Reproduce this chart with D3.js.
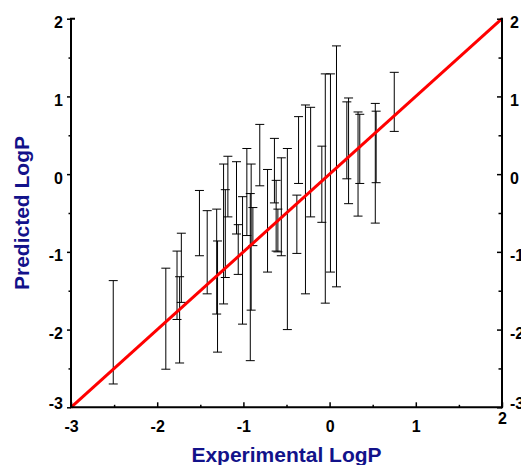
<!DOCTYPE html>
<html>
<head>
<meta charset="utf-8">
<script src="https://cdn.jsdelivr.net/npm/d3@7"></script>
<style>
  body { margin: 0; background: #fff; }
  svg { display: block; }
</style>
</head>
<body>
<div id="chart"></div>
<script>
// values
const expLogP = [-2.51, -1.90, -1.77, -1.72, -1.74, -1.51, -1.42, -1.31, -1.30, -1.23, -1.21, -1.18, -1.08, -1.06,
  -1.01, -0.96, -0.92, -0.91, -0.89, -0.81, -0.72, -0.64, -0.62, -0.60, -0.56, -0.49, -0.38, -0.36, -0.28, -0.22,
  -0.09, -0.05, 0.01, 0.08, 0.20, 0.22, 0.33, 0.35, 0.53, 0.54, 0.75];
const predHigh = [-1.37, -1.21, -0.99, -0.76, -1.32, -0.21, -0.47, -0.45, -0.86, 0.13, -0.20, 0.23, 0.16, -0.65,
  -0.29, 0.33, -0.25, 0.13, -0.43, 0.64, 0.06, 0.46, -0.08, -0.45, 0.21, 0.33, -0.27, 0.74, 0.89, 0.86,
  0.36, 1.29, 1.29, 1.65, 0.93, 0.98, 0.80, 0.77, 0.91, 0.81, 1.31];
const predLow = [-2.70, -2.51, -1.87, -1.65, -2.43, -1.05, -1.54, -1.80, -2.29, -1.67, -1.33, -0.55, -0.77, -1.29,
  -1.93, -0.79, -2.40, -1.75, -0.92, -0.15, -1.26, -0.37, -0.99, -1.00, -1.05, -2.00, -1.02, -0.12, -1.54, -0.55,
  -0.62, -1.66, -1.26, -1.45, -0.06, -0.38, -0.54, -0.12, -0.63, -0.11, 0.55];
const majorTicks = [-3, -2, -1, 0, 1, 2];
const minorTicks = [-2.5, -1.5, -0.5, 0.5, 1.5];
const identityLine = [-3, 2];
const xTitle = "Experimental LogP";
const yTitle = "Predicted LogP";

function drawPlot() {
  const data = expLogP.map((x, i) => ({ x: x, lo: predLow[i], hi: predHigh[i] }));

  let dimensions = {
    width: 521,
    height: 465,
    margin: { top: 18.7, right: 19, bottom: 57.7, left: 71 },
  };
  dimensions.boundedWidth = dimensions.width - dimensions.margin.left - dimensions.margin.right;
  dimensions.boundedHeight = dimensions.height - dimensions.margin.top - dimensions.margin.bottom;

  const font = "'Liberation Sans', Arial, sans-serif";
  const navy = "#12128a";

  const wrapper = d3.select("#chart")
    .append("svg")
      .attr("width", dimensions.width)
      .attr("height", dimensions.height)
      .style("background", "#fff");

  const xScale = d3.scaleLinear()
    .domain([-3, 2])
    .range([dimensions.margin.left, dimensions.margin.left + dimensions.boundedWidth]);

  const yScale = d3.scaleLinear()
    .domain([-3, 2])
    .range([dimensions.margin.top + dimensions.boundedHeight, dimensions.margin.top]);

  const x0 = xScale.range()[0], x1 = xScale.range()[1];
  const yB = yScale.range()[0], yT = yScale.range()[1];

  // error bars
  const bars = wrapper.append("g")
    .attr("stroke", "#000")
    .attr("stroke-width", 1)
    .attr("fill", "none");

  bars.selectAll("line.stem")
    .data(data)
    .join("line")
      .attr("class", "stem")
      .attr("x1", d => xScale(d.x))
      .attr("x2", d => xScale(d.x))
      .attr("y1", d => yScale(d.hi))
      .attr("y2", d => yScale(d.lo));

  const caps = data.flatMap(d => [{ x: d.x, y: d.hi }, { x: d.x, y: d.lo }]);
  bars.selectAll("line.cap")
    .data(caps)
    .join("line")
      .attr("class", "cap")
      .attr("x1", d => xScale(d.x) - 4.5)
      .attr("x2", d => xScale(d.x) + 4.5)
      .attr("y1", d => yScale(d.y))
      .attr("y2", d => yScale(d.y));

  // y = x line
  const line = d3.line()
    .x(d => xScale(d))
    .y(d => yScale(d));
  wrapper.append("path")
    .datum(identityLine)
    .attr("d", line)
    .attr("fill", "none")
    .attr("stroke", "#ff0000")
    .attr("stroke-width", 3);

  const styleAxis = g => g
    .call(g => g.select(".domain").remove())
    .call(g => g.selectAll(".tick line").attr("stroke", "#000").attr("stroke-width", 1.5))
    .call(g => g.selectAll(".tick text")
      .attr("fill", "#000")
      .attr("font-family", font)
      .attr("font-weight", "bold")
      .attr("font-size", 16));

  // left axis
  wrapper.append("g")
    .attr("transform", `translate(${x0},0)`)
    .call(d3.axisLeft(yScale).tickValues(minorTicks).tickSize(2.5).tickFormat(""))
    .call(styleAxis);
  wrapper.append("g")
    .attr("transform", `translate(${x0},0)`)
    .call(d3.axisLeft(yScale).tickValues(majorTicks).tickSize(4).tickPadding(4).tickFormat(d => d))
    .call(styleAxis)
    .call(g => g.selectAll(".tick text").attr("y", d => d === -3 ? -4 : 4));

  // right axis
  wrapper.append("g")
    .attr("transform", `translate(${x1},0)`)
    .call(d3.axisRight(yScale).tickValues(minorTicks).tickSize(-3.5).tickFormat(""))
    .call(styleAxis);
  wrapper.append("g")
    .attr("transform", `translate(${x1},0)`)
    .call(d3.axisRight(yScale).tickValues(majorTicks).tickSize(-5).tickPadding(8).tickFormat(d => d))
    .call(styleAxis)
    .call(g => g.selectAll(".tick text").attr("y", d => d === -3 ? -4 : 4));

  // bottom axis
  wrapper.append("g")
    .attr("transform", `translate(0,${yB})`)
    .call(d3.axisBottom(xScale).tickValues(minorTicks).tickSize(-2.5).tickFormat(""))
    .call(styleAxis);
  wrapper.append("g")
    .attr("transform", `translate(0,${yB})`)
    .call(d3.axisBottom(xScale).tickValues(majorTicks).tickSize(-5).tickPadding(13).tickFormat(d => d))
    .call(styleAxis)
    .call(g => g.selectAll(".tick text").attr("y", d => d === 2 ? 5 : 13));

  // axis lines
  const frame = wrapper.append("g")
    .attr("stroke", "#000")
    .attr("stroke-width", 2)
    .attr("fill", "none");
  frame.append("path").attr("d", `M${x0 + 4},${yT} H${x0} V${yB} H${x1}`);
  frame.append("path").attr("d", `M${x1},${yT - 1} V${yB + 1}`);

  // titles
  wrapper.append("text")
    .attr("x", (x0 + x1) / 2 + 0)
    .attr("y", 462)
    .attr("text-anchor", "middle")
    .attr("font-family", font)
    .attr("font-weight", "bold")
    .attr("font-size", 21)
    .attr("fill", navy)
    .text(xTitle);

  wrapper.append("text")
    .attr("transform", `translate(29,${(yT + yB) / 2}) rotate(-90)`)
    .attr("text-anchor", "middle")
    .attr("font-family", font)
    .attr("font-weight", "bold")
    .attr("font-size", 21)
    .attr("fill", navy)
    .text(yTitle);
}
drawPlot();
</script>
</body>
</html>
